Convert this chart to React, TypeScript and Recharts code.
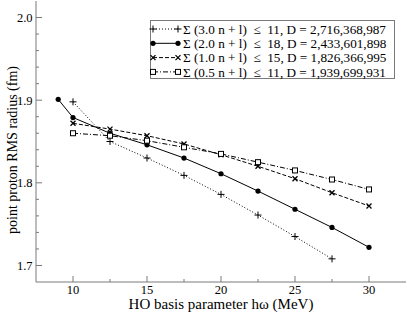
import React from "react";
import { LineChart, Line, XAxis, YAxis, Legend } from "recharts";

// HO parameter (MeV) and point proton RMS radius (fm)
const hw30 = [10, 12.5, 15, 17.5, 20, 22.5, 25, 27.5];
const r30 = [1.898, 1.85, 1.83, 1.809, 1.786, 1.761, 1.735, 1.708];

const hw20 = [9, 10, 12.5, 15, 17.5, 20, 22.5, 25, 27.5, 30];
const r20 = [1.901, 1.879, 1.86, 1.846, 1.83, 1.811, 1.79, 1.768, 1.746, 1.722];

const hw10 = [10, 12.5, 15, 17.5, 20, 22.5, 25, 27.5, 30];
const r10 = [1.872, 1.865, 1.857, 1.847, 1.834, 1.82, 1.805, 1.788, 1.772];

const hw05 = [10, 12.5, 15, 17.5, 20, 22.5, 25, 27.5, 30];
const r05 = [1.86, 1.857, 1.851, 1.843, 1.835, 1.825, 1.815, 1.804, 1.792];

const legendLabels = [
  "Σ (3.0 n + l)  ≤  11, D = 2,716,368,987",
  "Σ (2.0 n + l)  ≤  18, D = 2,433,601,898",
  "Σ (1.0 n + l)  ≤  15, D = 1,826,366,995",
  "Σ (0.5 n + l)  ≤  11, D = 1,939,699,931",
];

const xTicks = [10, 12.5, 15, 17.5, 20, 22.5, 25, 27.5, 30];
const yTicks = [
  1.7, 1.72, 1.74, 1.76, 1.78, 1.8, 1.82, 1.84, 1.86, 1.88, 1.9, 1.92, 1.94,
  1.96, 1.98, 2.0,
];

const toPoints = (xs: number[], ys: number[]) =>
  xs.map((x, i) => ({ hw: x, r: ys[i] }));

const series = [
  { key: "s30", data: toPoints(hw30, r30), marker: "plus", dash: "1 2" },
  { key: "s20", data: toPoints(hw20, r20), marker: "circle", dash: undefined },
  { key: "s10", data: toPoints(hw10, r10), marker: "cross", dash: "4 2" },
  { key: "s05", data: toPoints(hw05, r05), marker: "square", dash: "5 2 1 2" },
];

const FONT = '"Liberation Serif", "Times New Roman", serif';
const FRAME = "#7a7a7a";

function Marker({ kind, cx, cy }: { kind: string; cx: number; cy: number }) {
  if (kind === "plus")
    return (
      <path
        d={`M${cx - 3.5},${cy}h7M${cx},${cy - 3.5}v7`}
        stroke="#000"
        strokeWidth={1}
        fill="none"
      />
    );
  if (kind === "circle") return <circle cx={cx} cy={cy} r={2.6} fill="#000" />;
  if (kind === "cross")
    return (
      <path
        d={`M${cx - 2.5},${cy - 2.5}l5,5M${cx - 2.5},${cy + 2.5}l5,-5`}
        stroke="#000"
        strokeWidth={1.3}
        fill="none"
      />
    );
  return (
    <rect
      x={cx - 2.5}
      y={cy - 2.5}
      width={5}
      height={5}
      fill="#fff"
      stroke="#000"
      strokeWidth={1}
    />
  );
}

const isMajorX = (v: number) => v % 5 === 0;
const isMajorY = (v: number) => Math.abs(v * 10 - Math.round(v * 10)) < 1e-6;

function BottomTick(props: any) {
  const { x, y, payload } = props;
  const major = isMajorX(payload.value);
  return (
    <g>
      <line x1={x} y1={y} x2={x} y2={y - (major ? 6 : 3)} stroke={FRAME} />
      {major && (
        <text x={x} y={y + 11.5} textAnchor="middle" fontSize={12.5} fontFamily={FONT} fill="#000">
          {payload.value}
        </text>
      )}
    </g>
  );
}

function TopTick(props: any) {
  const { x, y, payload } = props;
  const major = isMajorX(payload.value);
  return <line x1={x} y1={y} x2={x} y2={y + (major ? 6 : 3)} stroke={FRAME} />;
}

function LeftTick(props: any) {
  const { x, y, payload } = props;
  const major = isMajorY(payload.value);
  return (
    <g>
      <line x1={x} y1={y} x2={x + (major ? 6 : 3)} y2={y} stroke={FRAME} />
      {major && (
        <text x={x - 3.5} y={y + 4.5} textAnchor="end" fontSize={12.5} fontFamily={FONT} fill="#000">
          {payload.value.toFixed(1)}
        </text>
      )}
    </g>
  );
}

function RightTick(props: any) {
  const { x, y, payload } = props;
  const major = isMajorY(payload.value);
  return <line x1={x} y1={y} x2={x - (major ? 6 : 3)} y2={y} stroke={FRAME} />;
}

function LegendBox() {
  return (
    <div
      style={{
        width: 245,
        height: 59,
        border: `1px solid ${FRAME}`,
        background: "#fff",
        boxSizing: "border-box",
      }}
    >
      <svg width={243} height={57} style={{ display: "block", overflow: "visible" }}>
        {series.map((s, i) => {
          const y = 8 + i * 14.3;
          return (
            <g key={s.key}>
              <line x1={2} y1={y} x2={27} y2={y} stroke="#000" strokeDasharray={s.dash} />
              <Marker kind={s.marker} cx={2} cy={y} />
              <Marker kind={s.marker} cx={27} cy={y} />
              <text
                x={32}
                y={y + 4.6}
                fontSize={13.2}
                fontFamily={FONT}
                fill="#000"
                style={{ whiteSpace: "pre" }}
              >
                {legendLabels[i]}
              </text>
            </g>
          );
        })}
      </svg>
    </div>
  );
}

export default function App() {
  return (
    <div style={{ width: 407, height: 312, background: "#fff" }}>
      <style>{`body{margin:0}`}</style>
      <LineChart
        width={407}
        height={312}
        margin={{ top: 1, right: 1, bottom: 0, left: 0 }}
      >
        <XAxis
          xAxisId="b"
          dataKey="hw"
          type="number"
          domain={[7.5, 32.5]}
          ticks={xTicks}
          interval={0}
          allowDataOverflow
          height={30}
          tickSize={0}
          tickMargin={0}
          tick={<BottomTick />}
          axisLine={{ stroke: FRAME }}
          label={{
            content: ({ viewBox }: any) => (
              <text
                x={viewBox.x + viewBox.width / 2}
                y={309}
                textAnchor="middle"
                fontSize={15}
                fontFamily={FONT}
                fill="#000"
              >
                HO basis parameter hω (MeV)
              </text>
            ),
          }}
        />
        <XAxis
          xAxisId="t"
          orientation="top"
          dataKey="hw"
          type="number"
          domain={[7.5, 32.5]}
          ticks={xTicks}
          interval={0}
          allowDataOverflow
          height={0}
          tickSize={0}
          tickMargin={0}
          tick={<TopTick />}
          axisLine={{ stroke: FRAME }}
        />
        <YAxis
          yAxisId="l"
          type="number"
          domain={[1.68, 2.02]}
          ticks={yTicks}
          interval={0}
          allowDataOverflow
          width={36}
          tickSize={0}
          tickMargin={0}
          tick={<LeftTick />}
          axisLine={{ stroke: FRAME }}
          label={{
            content: () => (
              <text
                x={17}
                y={150}
                transform="rotate(-90 17 150)"
                textAnchor="middle"
                fontSize={14}
                fontFamily={FONT}
                fill="#000"
              >
                point proton RMS radius (fm)
              </text>
            ),
          }}
        />
        <YAxis
          yAxisId="r"
          orientation="right"
          type="number"
          domain={[1.68, 2.02]}
          ticks={yTicks}
          interval={0}
          allowDataOverflow
          width={0}
          tickSize={0}
          tickMargin={0}
          tick={<RightTick />}
          axisLine={{ stroke: FRAME }}
        />
        {series.map((s) => (
          <Line
            key={s.key}
            xAxisId="b"
            yAxisId="l"
            data={s.data}
            dataKey="r"
            name={s.key}
            type="linear"
            stroke="#000"
            strokeWidth={1}
            strokeDasharray={s.dash}
            isAnimationActive={false}
            dot={(p: any) => (
              <Marker key={`${s.key}-${p.index}`} kind={s.marker} cx={p.cx} cy={p.cy} />
            )}
            activeDot={false}
          />
        ))}
        <Legend
          layout="horizontal"
          verticalAlign="middle"
          align="center"
          content={() => <LegendBox />}
          wrapperStyle={{ position: "absolute", left: 150, top: 20, width: 245, height: 59 }}
        />
      </LineChart>
    </div>
  );
}
